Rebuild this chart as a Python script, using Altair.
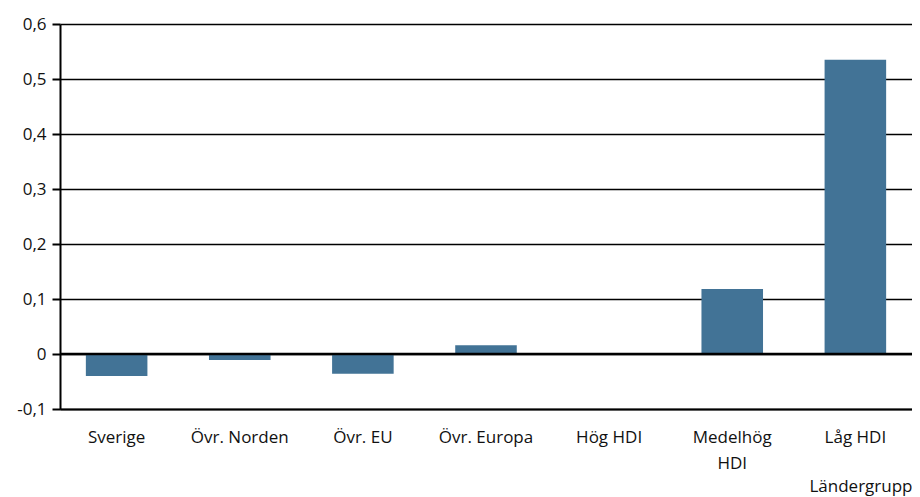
import altair as alt
import pandas as pd

categories = ["Sverige", "Övr. Norden", "Övr. EU", "Övr. Europa", "Hög HDI", "Medelhög\nHDI", "Låg HDI"]
values = [-0.040, -0.011, -0.036, 0.016, 0.0, 0.118, 0.535]
y_ticks = [-0.1, 0.0, 0.1, 0.2, 0.3, 0.4, 0.5, 0.6]

df = pd.DataFrame({"grupp": categories, "varde": values})

FONT = "Open Sans"
FS = 17
BAR = "#427396"
TXT = "#111111"

y_label_expr = ("datum.value == 0 ? '0' : (datum.value < 0 ? '-' : '') + "
                "replace(format(abs(datum.value), '.1f'), '.', ',')")

x_enc = alt.X(
    "grupp:N", sort=categories,
    scale=alt.Scale(paddingInner=0.5, paddingOuter=0.21),
    axis=alt.Axis(
        title="Ländergrupp", titleAnchor="end", titleAlign="right", titleFont=FONT, titleFontSize=FS,
        titleFontWeight="normal", titleColor=TXT, titleBaseline="middle", titleY=77,
        labelFont=FONT, labelFontSize=FS, labelColor=TXT, labelAngle=0,
        labelPadding=28, labelExpr="split(datum.label, '\\n')", labelLineHeight=26,
        labelBaseline="middle",
        ticks=False, domain=True, domainColor="#000000", domainWidth=2,
        grid=False,
    ),
)

y_scale = alt.Scale(domain=[-0.1, 0.6], nice=False, zero=False)

bars = alt.Chart(df).mark_bar(color=BAR).encode(
    x=x_enc,
    y=alt.Y(
        "varde:Q", scale=y_scale,
        axis=alt.Axis(
            title=None, values=y_ticks, labelExpr=y_label_expr,
            labelFont=FONT, labelFontSize=FS, labelColor=TXT, labelPadding=6,
            tickSize=8, tickColor="#000000", tickWidth=2,
            domain=True, domainColor="#000000", domainWidth=2,
            grid=True, gridColor="#000000", gridWidth=1.6, gridOpacity=1,
        ),
    ),
)

zero_df = pd.DataFrame({"z": [0.0]})
zero_line = alt.Chart(zero_df).mark_rule(color="#000000", strokeWidth=2.5).encode(
    y=alt.Y("z:Q", scale=y_scale)
)

chart = (
    alt.layer(bars, zero_line)
    .properties(
        width=852, height=385,
        autosize=alt.AutoSizeParams(type="none"),
        padding={"left": 52, "top": 16, "right": 0, "bottom": 88},
        background="#ffffff",
    )
    .configure_view(stroke=None)
)

chart.save("out.html", embed_options={"renderer": "svg", "actions": False})
